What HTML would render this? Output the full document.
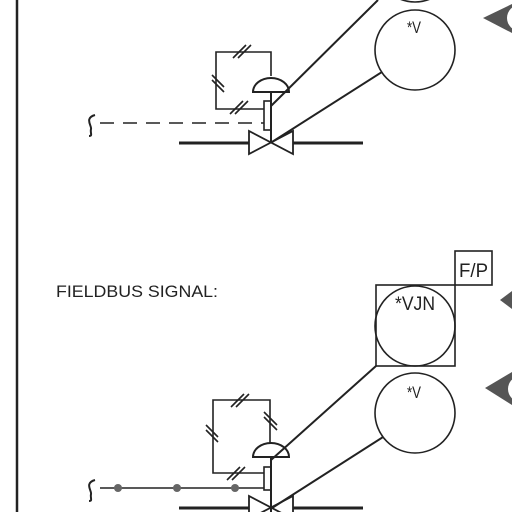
<!DOCTYPE html>
<html><head><meta charset="utf-8"><style>
html,body{margin:0;padding:0;background:#fff;width:512px;height:512px;overflow:hidden}
svg{display:block}
text{font-family:"Liberation Sans",sans-serif;fill:#222}
</style></head><body>
<svg width="512" height="512" viewBox="0 0 512 512" stroke="#222" fill="none">
<line x1="17" y1="0" x2="17" y2="512" stroke-width="2.5"/>

<g stroke-width="1.6">
  <circle cx="415" cy="-38" r="40"/>
  <circle cx="415" cy="50" r="40" fill="#fff"/>
  <text x="407" y="33" font-size="17" textLength="14" lengthAdjust="spacingAndGlyphs" stroke="none">*V</text>
  <line x1="271" y1="106" x2="378" y2="0" stroke-width="2"/>
  <line x1="272" y1="142" x2="382" y2="72" stroke-width="2"/>
  <polyline points="264,109 216,109 216,52 271,52 271,76"/>
  <path d="M233,58 l13,-13 M238,58 l13,-13 M212,75 l12,12 M212,80 l12,12 M230,114 l13,-13 M235,114 l13,-13"/>
  <path d="M253,92 A18,14 0 0 1 289,92 Z" stroke-width="2"/>
  <line x1="271" y1="92" x2="271" y2="142" stroke-width="2"/>
  <rect x="264" y="101" width="7" height="29"/>
  <line x1="100" y1="123" x2="264" y2="123" stroke-dasharray="14,9"/>
  <path d="M95,115 C84,118 92,126 91,129 C90,133 93,136 89,136" stroke-width="2"/>
  <line x1="179" y1="143" x2="249" y2="143" stroke-width="3"/>
  <line x1="293" y1="143" x2="363" y2="143" stroke-width="3"/>
  <path d="M249,131 L249,154 L293,131 L293,154 Z" stroke-width="1.8"/>
</g>

<polygon points="483,18 512,4 512,33" fill="#555" stroke="none"/>
<circle cx="520" cy="18" r="13" fill="#fff" stroke="none"/>

<g stroke-width="1.6">
  <text x="56" y="297" font-size="17" textLength="162" lengthAdjust="spacingAndGlyphs" stroke="none">FIELDBUS SIGNAL:</text>
  <rect x="455" y="251" width="37" height="34"/>
  <text x="459" y="277" font-size="19" textLength="29" lengthAdjust="spacingAndGlyphs" stroke="none">F/P</text>
  <rect x="376" y="285" width="79" height="81"/>
  <circle cx="415" cy="326" r="40"/>
  <text x="395" y="310" font-size="19" textLength="40" lengthAdjust="spacingAndGlyphs" stroke="none">*VJN</text>
  <circle cx="415" cy="413" r="40"/>
  <text x="407" y="398" font-size="17" textLength="14" lengthAdjust="spacingAndGlyphs" stroke="none">*V</text>
  <line x1="271" y1="460" x2="376" y2="366" stroke-width="2"/>
  <line x1="272" y1="508" x2="383" y2="437" stroke-width="2"/>
  <polyline points="264,473 213,473 213,400 270,400 270,443"/>
  <path d="M231,407 l13,-13 M236,407 l13,-13 M206,425 l12,12 M206,430 l12,12 M264,412 l13,13 M264,417 l13,13 M227,480 l13,-13 M232,480 l13,-13"/>
  <path d="M253,457 A18,14 0 0 1 289,457 Z" stroke-width="2"/>
  <line x1="271" y1="457" x2="271" y2="512" stroke-width="2"/>
  <rect x="264" y="467" width="7" height="23"/>
  <line x1="100" y1="488" x2="264" y2="488"/>
  <circle cx="118" cy="488" r="4" fill="#666" stroke="none"/>
  <circle cx="177" cy="488" r="4" fill="#666" stroke="none"/>
  <circle cx="235" cy="488" r="4" fill="#666" stroke="none"/>
  <path d="M95,480 C84,483 92,491 91,494 C90,498 93,501 89,501" stroke-width="2"/>
  <line x1="179" y1="508" x2="249" y2="508" stroke-width="3"/>
  <line x1="293" y1="508" x2="363" y2="508" stroke-width="3"/>
  <path d="M249,496 L249,519 L293,496 L293,519 Z" stroke-width="1.8"/>
</g>

<polygon points="500,300 512,291 512,309" fill="#555" stroke="none"/>
<polygon points="485,388 512,372 512,405" fill="#555" stroke="none"/>
<circle cx="521" cy="389" r="13" fill="#fff" stroke="none"/>
</svg>
</body></html>
